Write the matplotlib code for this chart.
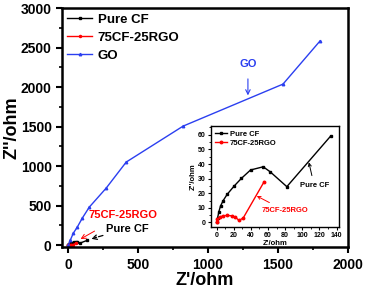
import matplotlib
matplotlib.use("Agg")
import matplotlib.pyplot as plt
from matplotlib.ticker import MultipleLocator

plt.rcParams['font.family'] = ['Liberation Sans', 'DejaVu Sans']
plt.rcParams['font.weight'] = 'bold'

# impedance data (Z' , Z'') in ohm
cf_x = [0, 1.1, 2.7, 4.6, 7.7, 12.4, 20.6, 29, 39.6, 54.4, 62.5, 82, 133]
cf_y = [0, 3, 7.5, 11.3, 15, 19.3, 25, 30.2, 35.9, 38.1, 34.7, 24.5, 59]

rgo_x = [0, 1, 4, 7.7, 11.7, 17.5, 22, 26, 31, 55.5]
rgo_y = [0, 2.3, 3.7, 4.6, 4.8, 4.6, 3.7, 1.4, 3, 27.9]

go_x = [0, 14, 36, 64, 100, 150, 271, 414, 821, 1536, 1800]
go_y = [0, 63, 152, 228, 342, 481, 722, 1051, 1506, 2038, 2582]

fig = plt.figure(figsize=(3.65, 2.89), dpi=100)
ax = fig.add_axes([0.170, 0.145, 0.783, 0.827])

ax.plot(cf_x, cf_y, color='black', marker='s', markersize=1.5, lw=1, label='Pure CF')
ax.plot(rgo_x, rgo_y, color='red', marker='o', markersize=1.5, lw=1, label='75CF-25RGO')
ax.plot(go_x, go_y, color='#2b3ff0', marker='^', markersize=1.8, lw=1, label='GO')

ax.set_xlim(-45, 2000)
ax.set_ylim(-25, 3000)
ax.xaxis.set_major_locator(MultipleLocator(500))
ax.xaxis.set_minor_locator(MultipleLocator(250))
ax.yaxis.set_major_locator(MultipleLocator(500))
ax.yaxis.set_minor_locator(MultipleLocator(250))
ax.tick_params(which='major', direction='out', length=4, width=1.5, labelsize=10)
ax.tick_params(which='minor', direction='out', length=2.5, width=1.2)
for s in ax.spines.values():
    s.set_linewidth(1.8)
for lab in ax.get_xticklabels() + ax.get_yticklabels():
    lab.set_fontweight('bold')
ax.set_xlabel("Z'/ohm", fontsize=13, fontweight='bold', labelpad=0)
ax.set_ylabel("Z''/ohm", fontsize=13, fontweight='bold', labelpad=0)

leg = ax.legend(loc='upper left', frameon=False, handlelength=1.9,
                borderaxespad=0.1, labelspacing=0.45, handletextpad=0.4,
                borderpad=0.3, prop={'weight': 'bold', 'size': 9.5})

# annotations on main axes
ax.annotate('GO', xy=(1285, 1860), xytext=(1285, 2290), color='#2b3ff0',
            fontsize=8, fontweight='bold', ha='center', va='center',
            arrowprops=dict(arrowstyle='->', color='#2b3ff0', lw=0.8, shrinkA=5))
ax.annotate('75CF-25RGO', xy=(70, 60), xytext=(390, 380), color='red',
            fontsize=8, fontweight='bold', ha='center', va='center',
            arrowprops=dict(arrowstyle='->', color='red', lw=0.7,
                            shrinkA=12))
ax.annotate('Pure CF', xy=(145, 70), xytext=(420, 210), color='black',
            fontsize=8, fontweight='bold', ha='center', va='center',
            arrowprops=dict(arrowstyle='->', color='black', lw=0.9,
                            linestyle='--', shrinkA=20))

# inset
ins = fig.add_axes([0.577, 0.215, 0.352, 0.349])
ins.plot(cf_x, cf_y, color='black', marker='s', markersize=1.8, lw=1, label='Pure CF')
ins.plot(rgo_x, rgo_y, color='red', marker='o', markersize=1.8, lw=1, label='75CF-25RGO')
ins.set_xlim(-7, 143)
ins.set_ylim(-3, 66)
ins.xaxis.set_major_locator(MultipleLocator(20))
ins.xaxis.set_minor_locator(MultipleLocator(10))
ins.yaxis.set_major_locator(MultipleLocator(10))
ins.yaxis.set_minor_locator(MultipleLocator(5))
ins.tick_params(which='major', direction='out', length=2.5, width=0.8, labelsize=5, pad=1)
ins.tick_params(which='minor', direction='out', length=1.5, width=0.6)
for s in ins.spines.values():
    s.set_linewidth(1)
ins.set_xlabel("Z'/ohm", fontsize=5.5, fontweight='bold', labelpad=1)
ins.set_ylabel("Z''/ohm", fontsize=5.5, fontweight='bold', labelpad=1)
ins.legend(loc='upper left', frameon=False, handlelength=1.6, borderaxespad=0.2,
           labelspacing=0.2, handletextpad=0.3, prop={'weight': 'bold', 'size': 5.5})
ins.annotate('Pure CF', xy=(107, 43), xytext=(114, 25), fontsize=5.5,
             fontweight='bold', ha='center', va='center',
             arrowprops=dict(arrowstyle='->', color='black', lw=0.7, shrinkA=3))
ins.annotate('75CF-25RGO', xy=(44, 19), xytext=(80, 8), color='red', fontsize=5.5,
             fontweight='bold', ha='center', va='center',
             arrowprops=dict(arrowstyle='->', color='red', lw=0.7, shrinkA=3))

fig.savefig('out.png', dpi=100)
